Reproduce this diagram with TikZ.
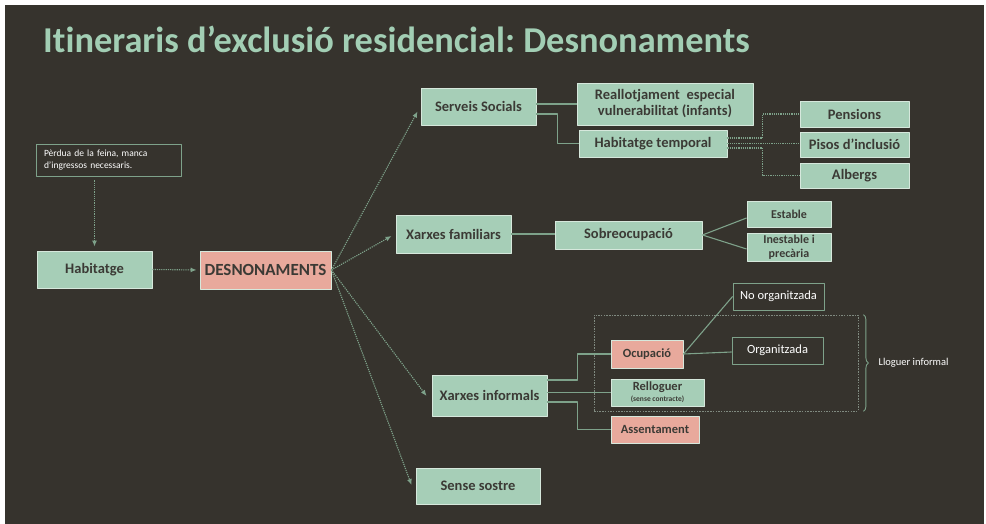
\documentclass[tikz,border=0pt]{standalone}
\usepackage{fontspec}
\setmainfont{Carlito}[Ligatures=NoCommon]
\usetikzlibrary{positioning,arrows.meta,decorations.pathreplacing}
\frenchspacing
\definecolor{bgdark}{RGB}{54,51,45}
\definecolor{boxgreen}{RGB}{166,206,183}
\definecolor{boxpink}{RGB}{232,169,156}
\definecolor{boxline}{RGB}{214,232,220}
\definecolor{boxtext}{RGB}{59,58,53}
\definecolor{linkgreen}{RGB}{126,162,138}
\definecolor{titlegreen}{RGB}{162,206,180}
\definecolor{framegray}{RGB}{128,138,128}
\begin{document}
\begin{tikzpicture}[x=1pt, y=-1pt, line join=round, >={Latex[length=6pt,width=5pt]},
 box/.style={draw=boxline, line width=0.9pt, inner sep=0pt, align=center, text=boxtext, font=\bfseries\fontsize{14.5}{16}\selectfont},
 greenbox/.style={box, fill=boxgreen},
 pinkbox/.style={box, fill=boxpink},
 darkbox/.style={draw=linkgreen, line width=0.9pt, fill=bgdark, inner sep=0pt, align=center, text=white, font=\fontsize{12.5}{14}\selectfont},
 link/.style={draw=linkgreen, line width=1.1pt},
 dotlink/.style={link, dash pattern=on 1.2pt off 1pt},
 arrowlink/.style={dotlink, ->}]
 \useasboundingbox (0,0) rectangle (986,524);
 \fill[white] (0,0) rectangle (986,524);
 \fill[bgdark] (5,5) rectangle (984,524);
 \node[anchor=base west, text=titlegreen, font=\bfseries\fontsize{36.4}{40}\selectfont, inner sep=0pt] (title) at (43,53) {Itineraris d’exclusió residencial: Desnonaments};

 % left part
 \node[darkbox, minimum width=145pt, minimum height=32pt, text width=129pt, align=left, font=\fontsize{9.5}{11.5}\selectfont] (note) at (108.5,160) {Pèrdua de la feina, manca\\d’ingressos necessaris.};
 \node[greenbox, minimum width=115pt, minimum height=37pt] (hab) at (94.5,269.5) {Habitatge};
 \node[pinkbox, minimum width=131pt, minimum height=38pt, font=\bfseries\fontsize{17}{19}\selectfont] (des) at (265.5,270) {DESNONAMENTS};
 \draw[arrowlink, shorten <=4pt, shorten >=4pt] (note.south -| hab.north) -- (hab.north);
 \draw[arrowlink, shorten >=3pt] (hab.east) -- (des.west);

 % second level
 \node[greenbox, minimum width=115pt, minimum height=37pt] (ss) at (478.5,106.5) {Serveis Socials};
 \node[greenbox, minimum width=115pt, minimum height=38pt] (xf) at (453.5,234) {Xarxes familiars};
 \node[greenbox, minimum width=115pt, minimum height=41pt] (xi) at (489.5,395.5) {Xarxes informals};
 \node[greenbox, minimum width=124pt, minimum height=36pt] (sos) at (478,486) {Sense sostre};
 \draw[arrowlink] (des.east) -- ([shift={(-3,5)}]ss.west);
 \draw[arrowlink] (des.east) -- ([shift={(-4,2)}]xf.west);
 \draw[arrowlink] (des.east) -- ([shift={(-5,0.5)}]xi.west);
 \draw[arrowlink] (des.east) -- ([shift={(-4,-1)}]sos.west);

 % serveis socials
 \node[greenbox, minimum width=176pt, minimum height=42pt] (re) at (665,104) {Reallotjament\ \ especial\\vulnerabilitat (infants)};
 \node[greenbox, minimum width=148pt, minimum height=27pt] (ht) at (653,143.5) {Habitatge temporal};
 \node[greenbox, minimum width=109pt, minimum height=26pt] (pen) at (854.5,114) {Pensions};
 \node[greenbox, minimum width=109pt, minimum height=25pt] (pis) at (854.5,144.5) {Pisos d’inclusió};
 \node[greenbox, minimum width=109pt, minimum height=25pt] (alb) at (854.5,175.5) {Albergs};
 \draw[link] (re.west -| ss.east) -- (re.west);
 \draw[link] ([yshift=-7.5pt]ss.east) -| ([xshift=-21pt]ht.west) -- (ht.west);
 \draw[dotlink] ([yshift=5.5pt]ht.east) -| ([xshift=-37pt]pen.west) -- (pen.west);
 \draw[dotlink] (ht.east) -- (ht.east -| pis.west);
 \draw[dotlink] ([yshift=-4.5pt]ht.east) -| ([xshift=-37pt]alb.west) -- (alb.west);

 % xarxes familiars
 \node[greenbox, minimum width=147pt, minimum height=28pt] (sob) at (628.5,235) {Sobreocupació};
 \node[greenbox, minimum width=84pt, minimum height=26pt, font=\bfseries\fontsize{12}{14}\selectfont] (est) at (789,214) {Estable};
 \node[greenbox, minimum width=84pt, minimum height=28pt, font=\bfseries\fontsize{12}{14}\selectfont] (ine) at (789,247) {Inestable i\\precària};
 \draw[link] (xf.east) -- (xf.east -| sob.west);
 \draw[link] (sob.east) -- ([yshift=-4pt]est.west);
 \draw[link] (sob.east) -- ([yshift=-2pt]ine.west);

 % xarxes informals
 \node[draw=framegray, line width=0.8pt, dash pattern=on 1.5pt off 1.2pt, minimum width=264pt, minimum height=96pt, inner sep=0pt] (li) at (726,363) {};
 \node[pinkbox, minimum width=72pt, minimum height=28pt, font=\bfseries\fontsize{12.5}{14}\selectfont] (ocu) at (647,354) {Ocupació};
 \node[greenbox, minimum width=93pt, minimum height=27pt, font=\bfseries\fontsize{12.5}{11}\selectfont] (rel) at (657.5,392.5) {Relloguer\\{\fontsize{7.5}{8}\selectfont(sense contracte)}};
 \node[pinkbox, minimum width=88pt, minimum height=27pt, font=\bfseries\fontsize{12.5}{14}\selectfont] (ass) at (655,429.5) {Assentament};
 \node[darkbox, minimum width=91pt, minimum height=27pt] (noo) at (778.5,296.5) {No organitzada};
 \node[darkbox, minimum width=91pt, minimum height=27pt] (org) at (777.5,350.5) {Organitzada};
 \draw[link] ([yshift=15.5pt]xi.east) -| ([xshift=-33pt]ocu.west) -- (ocu.west);
 \draw[link] (xi.east |- rel.west) -- (rel.west);
 \draw[link] ([yshift=-6.5pt]xi.east) -| ([xshift=-33pt]ass.west) -- (ass.west);
 \draw[link] (ocu.east) -- (noo.west);
 \draw[link] (ocu.east) -- ([yshift=-1.5pt]org.west);
 \draw[link, line width=0.9pt, decorate, decoration={brace, amplitude=5pt}] ([xshift=5pt]li.north east) -- ([xshift=5pt]li.south east);
 \node[right=20pt of li.east, inner sep=0pt, text=white, font=\fontsize{10.5}{12}\selectfont] (lab) {Lloguer informal};
\end{tikzpicture}
\end{document}
